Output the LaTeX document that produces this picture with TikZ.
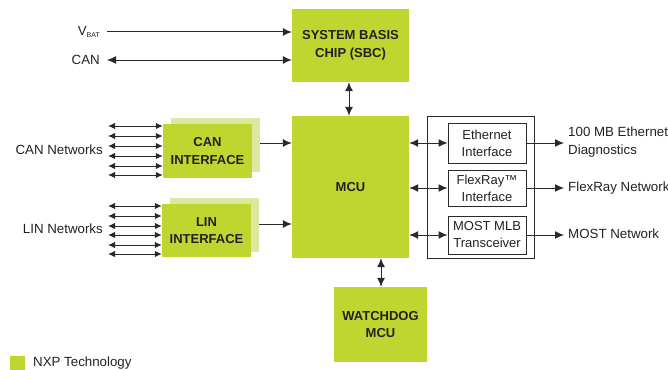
\documentclass[tikz,border=0pt]{standalone}
\usepackage{fontspec}
\setmainfont{Liberation Sans}
\usetikzlibrary{arrows.meta}
\definecolor{nxp}{HTML}{BED62F}
\definecolor{nxplight}{HTML}{DCE79F}
\definecolor{txt}{HTML}{222222}
\definecolor{ln}{HTML}{2A2A2A}
\tikzset{
  greenbox/.style={fill=nxp, draw=none, text=txt, font=\fontsize{13}{17.5}\selectfont\bfseries, align=center, inner sep=0pt},
  whitebox/.style={draw=ln, line width=1pt, fill=white, text=txt, font=\fontsize{13}{17}\selectfont, align=center, inner sep=0pt},
  lbl/.style={text=txt, font=\fontsize{13.3}{17}\selectfont, inner sep=0pt},
  conn/.style={draw=ln, line width=1pt, -{Latex[length=9pt,width=8pt]}},
  dconn/.style={draw=ln, line width=1pt, {Latex[length=9pt,width=8pt]}-{Latex[length=9pt,width=8pt]}},
  sconn/.style={draw=ln, line width=1pt, {Latex[length=7pt,width=6.5pt]}-{Latex[length=7pt,width=6.5pt]}},
}
\begin{document}
\begin{tikzpicture}[x=1pt,y=-1pt]
\useasboundingbox (0,0) rectangle (668,369);
% SBC
\node[greenbox, minimum width=117pt, minimum height=73pt] (sbc) at (350.5,45.5) {SYSTEM BASIS\\CHIP (SBC)};
% MCU
\node[greenbox, minimum width=117pt, minimum height=142pt] (mcu) at (350.5,187) {MCU};
% Watchdog
\node[greenbox, minimum width=93pt, minimum height=75pt] (wd) at (380.5,324.5) {WATCHDOG\\MCU};
% CAN interface
\fill[nxplight] (171,118) rectangle (260,172);
\coordinate (canshR) at (260,143);
\node[greenbox, minimum width=89pt, minimum height=54pt] (can) at (207.5,151) {CAN\\INTERFACE};
% LIN interface
\fill[nxplight] (170,198) rectangle (259,252);
\coordinate (linshR) at (259,224);
\node[greenbox, minimum width=89pt, minimum height=53pt] (lin) at (206.5,230.5) {LIN\\INTERFACE};
% right container
\node[draw=ln, line width=1pt, minimum width=107pt, minimum height=142pt, inner sep=0pt] (cont) at (480.5,187) {};
\node[whitebox, minimum width=78pt, minimum height=40pt] (eth) at (487,143) {Ethernet\\Interface};
\node[whitebox, minimum width=78pt, minimum height=36pt] (flex) at (487,188) {FlexRay™\\Interface};
\node[whitebox, minimum width=78pt, minimum height=38pt] (most) at (487,235) {MOST MLB\\Transceiver};
% labels
\node[lbl, anchor=east] (vbat) at (100,32) {V\raisebox{-0.35ex}{\fontsize{7}{8}\selectfont BAT}};
\node[lbl, anchor=east] (canl) at (100,60) {CAN};
\node[lbl, anchor=east] (cannet) at (103,150) {CAN Networks};
\node[lbl, anchor=east] (linnet) at (103,229) {LIN Networks};
\node[lbl, anchor=west, align=left, font=\fontsize{13.3}{17.5}\selectfont] (ethout) at (568,142) {100 MB Ethernet\\Diagnostics};
\node[lbl, anchor=west] (flexout) at (568,188) {FlexRay Network};
\node[lbl, anchor=west] (mostout) at (568,234) {MOST Network};
% connectors top
\coordinate (vbatS) at (107,32);
\coordinate (canS) at (107,60);
\coordinate (outX) at (564,0);
\draw[conn] (vbatS) -- (vbatS -| sbc.west);
\draw[dconn] (canS) -- (canS -| sbc.west);
\draw[dconn] (sbc.south -| 349,0) -- (mcu.north -| 349,0);
\draw[dconn] (mcu.south -| 381,0) -- (wd.north -| 381,0);
% interface to MCU
\draw[conn] (canshR) -- (canshR -| mcu.west);
\draw[conn] (linshR) -- (linshR -| mcu.west);
% network lines
\foreach \y [count=\i] in {126,136,146,156,166,175}{
  \coordinate (cn\i) at (108,\y);
  \draw[sconn] (cn\i) -- (cn\i -| can.west);
}
\foreach \y [count=\i] in {206,216,226,235,245,254}{
  \coordinate (ln\i) at (108,\y);
  \draw[sconn] (ln\i) -- (ln\i -| lin.west);
}
% MCU to right boxes
\draw[dconn] (mcu.east |- eth.west) -- (eth.west);
\draw[dconn] (mcu.east |- flex.west) -- (flex.west);
\draw[dconn] (mcu.east |- most.west) -- (most.west);
\draw[conn] (eth.east) -- (eth.east -| outX);
\draw[conn] (flex.east) -- (flex.east -| outX);
\draw[conn] (most.east) -- (most.east -| outX);
% legend
\node[fill=nxp, minimum width=15pt, minimum height=15pt, inner sep=0pt] (leg) at (17.5,363.5) {};
\node[lbl, anchor=west] (legt) at (33,363) {NXP Technology};
\end{tikzpicture}
\end{document}
